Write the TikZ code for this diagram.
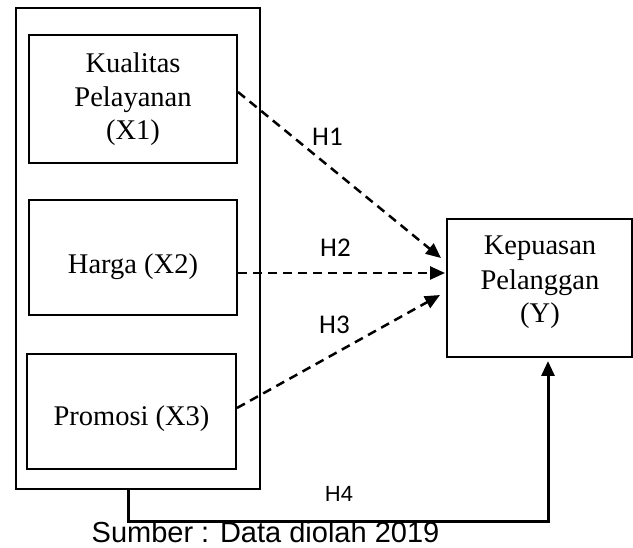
\documentclass[tikz,border=0pt]{standalone}
\usepackage{fontspec}
\setmainfont{Liberation Serif}
\newfontfamily\hfont{Carlito}
\newfontfamily\sfont{Liberation Sans}
\usetikzlibrary{arrows.meta}
\tikzset{
  box/.style={draw, line width=2.2pt, inner sep=0pt},
  outerbox/.style={draw, line width=1.8pt, inner sep=0pt},
  txt/.style={font=\fontsize{28.5}{34}\selectfont, inner sep=0pt, anchor=base},
  hlab/.style={font=\hfont\fontsize{27}{32}\selectfont, inner sep=0pt, anchor=base},
  h4lab/.style={font=\sfont\fontsize{22}{26}\selectfont, inner sep=0pt, anchor=base},
  src/.style={font=\sfont\fontsize{29}{32}\selectfont, inner sep=0pt, anchor=base},
  dasharrow/.style={line width=2.5pt, dash pattern=on 9pt off 6pt, -{Triangle[length=15pt,width=13pt]}},
  solidarrow/.style={line width=3pt, -{Triangle[length=15pt,width=13pt]}}
}
\begin{document}
\begin{tikzpicture}[x=1pt,y=-1pt]
\useasboundingbox (0,0) rectangle (633,548);
% outer frame
\node[outerbox, minimum width=244pt, minimum height=481pt] (outer) at (138,248.5) {};
% boxes
\node[box, minimum width=208pt, minimum height=128pt] (x1) at (133,99) {};
\node[box, minimum width=208pt, minimum height=115pt] (x2) at (133,257.5) {};
\node[box, minimum width=209pt, minimum height=115pt] (x3) at (131.5,411.5) {};
\node[box, minimum width=185pt, minimum height=138pt] (y) at (539.5,288) {};
% texts
\node[txt] (t1a) at (133,73) {Kualitas};
\node[txt] (t1b) at (133,107) {Pelayanan};
\node[txt] (t1c) at (133,140) {(X1)};
\node[txt] (t2) at (133,274) {Harga (X2)};
\node[txt] (t3) at (131.5,426) {Promosi (X3)};
\node[txt] (tya) at (540,255) {Kepuasan};
\node[txt] (tyb) at (540,290) {Pelanggan};
\node[txt] (tyc) at (540,323) {(Y)};
% connector end points
\coordinate (s1) at (238,92);
\coordinate (e1) at (441,258);
\coordinate (s2) at (238,273);
\coordinate (e2) at (445,273);
\coordinate (s3) at (237,408);
\coordinate (e3) at (440,295);
\coordinate (s4) at (128,489);
\coordinate (c4) at (128,522);
\coordinate (e4) at (548,361);
\draw[dasharrow] (s1) -- (e1);
\draw[dasharrow] (s2) -- (e2);
\draw[dasharrow] (s3) -- (e3);
\draw[solidarrow] (s4) -- (c4) -| (e4);
% labels
\node[hlab] (h1) at (327.5,146) {H1};
\node[hlab] (h2) at (335.5,257) {H2};
\node[hlab] (h3) at (334.5,334) {H3};
\node[h4lab] (h4) at (339,502) {H4};
\node[src] (source) at (265.5,543) {Sumber : Data diolah 2019};
\end{tikzpicture}
\end{document}
